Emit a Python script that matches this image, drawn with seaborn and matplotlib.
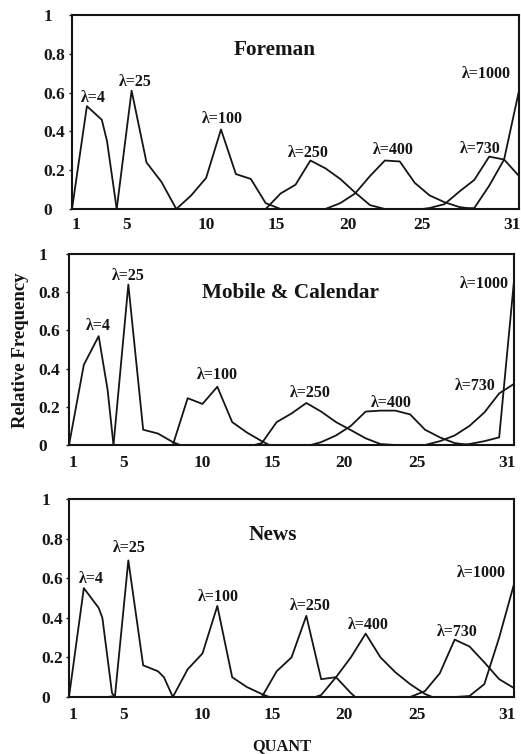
import matplotlib
matplotlib.use("Agg")
import matplotlib.pyplot as plt
from matplotlib.transforms import ScaledTranslation
import pandas as pd
import seaborn as sns

# ---------------------------------------------------------------------------
# Relative frequency of the chosen QUANT value for several lambda settings
# ---------------------------------------------------------------------------
lambdas = [4, 25, 100, 250, 400, 730, 1000]
lambda_labels = ["λ=4", "λ=25", "λ=100", "λ=250", "λ=400", "λ=730", "λ=1000"]
sequence_names = ["Foreman", "Mobile & Calendar", "News"]

quant_ticks = [1, 5, 10, 15, 20, 25, 31]
freq_ticks = [0, 0.2, 0.4, 0.6, 0.8, 1]
freq_tick_labels = ["0", "0.2", "0.4", "0.6", "0.8", "1"]

# Foreman
fore_q4 = [1, 2, 3, 3.35, 4]
fore_f4 = [0, 0.53, 0.46, 0.35, 0]
fore_q25 = [4, 5, 6, 7, 8]
fore_f25 = [0, 0.61, 0.24, 0.14, 0]
fore_q100 = [8, 9, 10, 11, 12, 13, 14, 15]
fore_f100 = [0, 0.07, 0.16, 0.41, 0.18, 0.155, 0.03, 0]
fore_q250 = [14, 15, 16, 17, 18, 19, 20, 21, 22]
fore_f250 = [0, 0.08, 0.125, 0.25, 0.21, 0.155, 0.085, 0.02, 0]
fore_q400 = [18, 19, 20, 21, 22, 23, 24, 25, 26, 27, 28]
fore_f400 = [0, 0.03, 0.08, 0.17, 0.25, 0.245, 0.135, 0.07, 0.035, 0.01, 0]
fore_q730 = [24.5, 25, 26, 27, 28, 29, 30, 31]
fore_f730 = [0, 0.005, 0.025, 0.09, 0.15, 0.27, 0.255, 0.17]
fore_q1000 = [27, 28, 29, 30, 31]
fore_f1000 = [0, 0.005, 0.12, 0.255, 0.61]

# Mobile & Calendar
mob_q4 = [1, 2, 3, 3.6, 4]
mob_f4 = [0, 0.42, 0.57, 0.29, 0]
mob_q25 = [4, 5, 6, 7, 8, 8.5]
mob_f25 = [0, 0.84, 0.08, 0.06, 0.015, 0]
mob_q100 = [8, 9, 10, 11, 12, 13, 14, 14.5]
mob_f100 = [0, 0.245, 0.215, 0.305, 0.12, 0.065, 0.02, 0]
mob_q250 = [13.5, 14, 15, 16, 17, 18, 19, 20, 21, 22, 23]
mob_f250 = [0, 0.01, 0.12, 0.165, 0.22, 0.175, 0.12, 0.078, 0.035, 0.005, 0]
mob_q400 = [17.3, 18, 19, 20, 21, 22, 23, 24, 25, 26, 27, 28]
mob_f400 = [0, 0.015, 0.05, 0.1, 0.175, 0.18, 0.18, 0.16, 0.08, 0.04, 0.01, 0]
mob_q730 = [25, 26, 27, 28, 29, 30, 31]
mob_f730 = [0, 0.02, 0.05, 0.1, 0.17, 0.27, 0.32]
mob_q1000 = [27.5, 28, 29, 30, 31]
mob_f1000 = [0, 0.005, 0.02, 0.04, 0.86]

# News
news_q4 = [1, 2, 3, 3.25, 3.9, 4.1]
news_f4 = [0, 0.55, 0.45, 0.40, 0.02, 0]
news_q25 = [3.6, 4.1, 5, 6, 7, 7.4, 8]
news_f25 = [0, 0.005, 0.69, 0.16, 0.13, 0.10, 0]
news_q100 = [8, 9, 10, 11, 12, 13, 14, 14.5]
news_f100 = [0, 0.14, 0.22, 0.46, 0.10, 0.05, 0.015, 0]
news_q250 = [14, 15, 16, 17, 18, 19, 20, 20.3]
news_f250 = [0, 0.13, 0.2, 0.41, 0.09, 0.1, 0.02, 0]
news_q400 = [17.6, 18, 19, 20, 21, 22, 23, 24, 25, 25.5]
news_f400 = [0, 0.01, 0.1, 0.2, 0.32, 0.2, 0.125, 0.065, 0.015, 0]
news_q730 = [24, 25, 26, 27, 28, 29, 30, 31]
news_f730 = [0, 0.03, 0.12, 0.29, 0.255, 0.175, 0.09, 0.045]
news_q1000 = [27, 28, 29, 30, 31]
news_f1000 = [0, 0.005, 0.065, 0.3, 0.57]

panel_curves = [
    [(fore_q4, fore_f4), (fore_q25, fore_f25), (fore_q100, fore_f100),
     (fore_q250, fore_f250), (fore_q400, fore_f400), (fore_q730, fore_f730),
     (fore_q1000, fore_f1000)],
    [(mob_q4, mob_f4), (mob_q25, mob_f25), (mob_q100, mob_f100),
     (mob_q250, mob_f250), (mob_q400, mob_f400), (mob_q730, mob_f730),
     (mob_q1000, mob_f1000)],
    [(news_q4, news_f4), (news_q25, news_f25), (news_q100, news_f100),
     (news_q250, news_f250), (news_q400, news_f400), (news_q730, news_f730),
     (news_q1000, news_f1000)],
]

# ---------------------------------------------------------------------------
# Layout
# ---------------------------------------------------------------------------
W, H = 521, 754
# axes boxes in pixels: left, top, right, bottom
panel_boxes = [(72, 15, 519, 209), (69, 254, 514, 445), (69, 499, 514, 697)]
# annotation anchors (QUANT, frequency) for the lambda labels, baseline aligned
label_spots = [
    [(2.41, 0.553), (5.28, 0.634), (11.07, 0.442), (16.86, 0.27),
     (22.58, 0.284), (28.38, 0.29), (28.83, 0.674)],
    [(2.98, 0.602), (5.03, 0.864), (10.98, 0.344), (17.3, 0.25),
     (22.7, 0.20), (28.36, 0.288), (29.0, 0.82)],
    [(2.53, 0.574), (5.06, 0.734), (11.07, 0.486), (17.25, 0.44),
     (21.15, 0.343), (27.16, 0.308), (28.8, 0.608)],
]
title_spots = [(14.6, 0.794), (15.94, 0.768), (14.71, 0.793)]
ytick_pads = [18.0, 19.4, 17.3]
xtick_pads = [5.5, 7.0, 7.0]
# horizontal nudge of each QUANT tick label, in points
xtick_nudges = [3.0, -3.5, 0.0, -3.0, -5.0, -5.5, -5.0]

sns.set_theme(style="white")
plt.rcParams["font.family"] = ["Liberation Serif", "DejaVu Serif"]
plt.rcParams["font.weight"] = "bold"

INK = "#151515"

fig = plt.figure(figsize=(W / 100, H / 100), dpi=100)
fig.patch.set_facecolor("white")

for p, (box, curves) in enumerate(zip(panel_boxes, panel_curves)):
    left, top, right, bottom = box
    ax = fig.add_axes([left / W, 1 - bottom / H, (right - left) / W, (bottom - top) / H])
    ax.set_facecolor("white")

    frames = []
    for lam, (q, f) in zip(lambdas, curves):
        frames.append(pd.DataFrame({"QUANT": q, "freq": f, "lam": lam}))
    df = pd.concat(frames, ignore_index=True)
    sns.lineplot(data=df, x="QUANT", y="freq", units="lam", estimator=None,
                 color=INK, linewidth=1.3, ax=ax, legend=False)

    ax.set_xlim(1, 31)
    ax.set_ylim(0, 1)
    ax.set_xticks(quant_ticks)
    ax.set_xticklabels([str(t) for t in quant_ticks], fontsize=12.5, fontweight="bold")
    ax.set_yticks(freq_ticks)
    ax.set_yticklabels(freq_tick_labels, fontsize=12.5, fontweight="bold")
    plt.setp(ax.get_yticklabels(), ha="left")
    ax.tick_params(axis="y", direction="out", length=2.5, width=1.0,
                   pad=ytick_pads[p], colors=INK, left=True)
    ax.tick_params(axis="x", length=0, pad=xtick_pads[p], colors=INK)
    for lab, dx in zip(ax.get_xticklabels(), xtick_nudges):
        lab.set_transform(lab.get_transform() +
                          ScaledTranslation(dx / 72, 0, fig.dpi_scale_trans))
    ax.set_xlabel("")
    ax.set_ylabel("")
    for s in ax.spines.values():
        s.set_visible(True)
        s.set_color(INK)
        s.set_linewidth(1.5)

    for (lq, lf), txt in zip(label_spots[p], lambda_labels):
        ax.text(lq, lf, txt, ha="center", va="baseline", fontsize=11.5,
                fontweight="bold", color=INK)
    tq, tf = title_spots[p]
    ax.text(tq, tf, sequence_names[p], ha="center", va="baseline",
            fontsize=15.3, fontweight="bold", color=INK)

fig.text(20.5 / W, 1 - 350 / H, "Relative Frequency", rotation=90,
         ha="center", va="center", fontsize=13.5, fontweight="bold", color=INK)
fig.text(282 / W, 1 - 750 / H, "QUANT", ha="center", va="baseline",
         fontsize=11.8, fontweight="bold", color=INK)

fig.savefig("out.png", dpi=100, facecolor="white")
